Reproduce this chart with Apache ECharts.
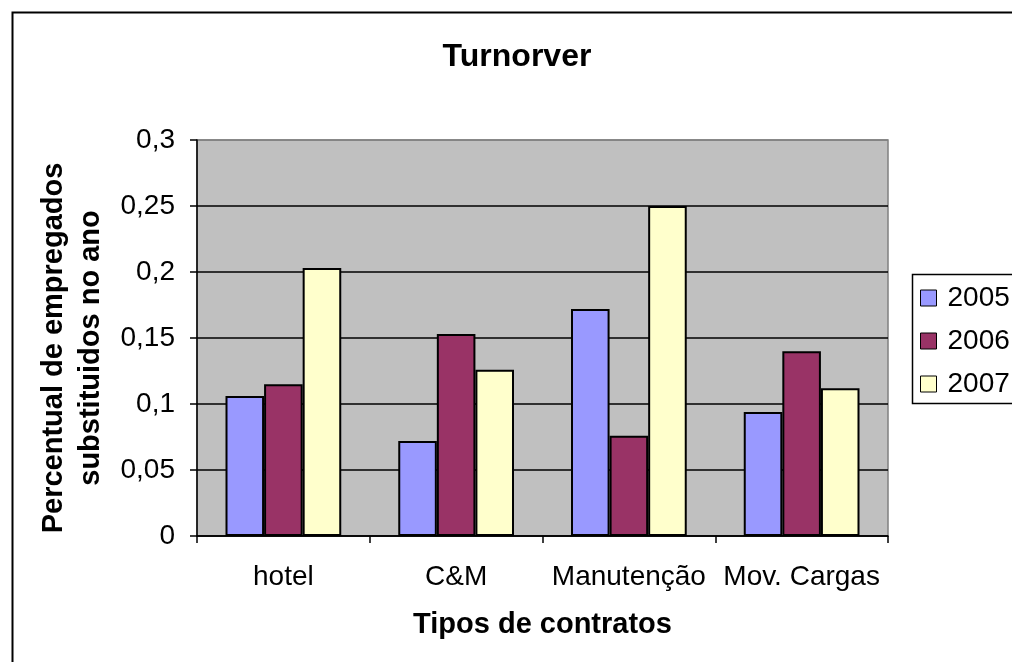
<!DOCTYPE html>
<html>
<head>
<meta charset="utf-8">
<script src="https://cdn.jsdelivr.net/npm/echarts@6/dist/echarts.min.js"></script>
<style>
html,body{margin:0;padding:0;background:#fff;}
#chart{width:1012px;height:662px;}
</style>
</head>
<body>
<div id="chart"></div>
<script>
var categories = ['hotel', 'C&M', 'Manutenção', 'Mov. Cargas'];
var seriesNames = ['2005', '2006', '2007'];
var values2005 = [0.106, 0.072, 0.172, 0.094];
var values2006 = [0.115, 0.153, 0.076, 0.140];
var values2007 = [0.203, 0.126, 0.250, 0.112];
var yTicks = [0, 0.05, 0.1, 0.15, 0.2, 0.25, 0.3];
var colors = ['#9999FF', '#993366', '#FFFFCC'];

var FONT = '"Liberation Sans", Arial, sans-serif';
var chart = echarts.init(document.getElementById('chart'), null, {renderer: 'canvas'});

function barSeries(name, data, color) {
  return {
    name: name,
    type: 'bar',
    data: data,
    barGap: '0%',
    barCategoryGap: '33%',
    itemStyle: {color: color, borderColor: '#000', borderWidth: 2},
    emphasis: {disabled: true}
  };
}

chart.setOption({
  animation: false,
  backgroundColor: '#fff',
  title: {
    text: 'Turnorver',
    left: 512,
    top: 36,
    textAlign: 'center',
    textStyle: {fontFamily: FONT, fontSize: 32, fontWeight: 'bold', color: '#000'}
  },
  grid: {
    left: 197, top: 140, width: 691, height: 396,
    show: true, backgroundColor: '#C0C0C0', borderColor: '#808080', borderWidth: 1.5
  },
  legend: {
    orient: 'vertical',
    left: 920,
    top: 284,
    padding: 0,
    itemWidth: 16,
    itemHeight: 16,
    itemGap: 15,
    icon: 'rect',
    selectedMode: false,
    data: seriesNames,
    itemStyle: {borderColor: '#000', borderWidth: 1},
    textStyle: {fontFamily: FONT, fontSize: 28, color: '#000', padding: [0, 0, 0, 6]}
  },
  xAxis: {
    type: 'category',
    data: categories,
    name: 'Tipos de contratos',
    nameLocation: 'middle',
    nameGap: 74,
    nameTextStyle: {fontFamily: FONT, fontSize: 29, fontWeight: 'bold', color: '#000'},
    axisLine: {lineStyle: {color: '#000', width: 1.5}},
    axisTick: {show: true, alignWithLabel: false, length: 7, lineStyle: {color: '#000', width: 1.5}},
    axisLabel: {fontFamily: FONT, fontSize: 28, color: '#000', margin: 27, interval: 0}
  },
  yAxis: {
    type: 'value',
    min: 0, max: 0.3, interval: 0.05,
    name: 'Percentual de empregados\nsubstituidos no ano',
    nameLocation: 'middle',
    nameGap: 88,
    nameRotate: 90,
    nameTextStyle: {fontFamily: FONT, fontSize: 29, fontWeight: 'bold', color: '#000', lineHeight: 37, padding: [0, 20, 0, 0]},
    axisLine: {show: true, lineStyle: {color: '#000', width: 1.5}},
    axisTick: {show: true, length: 7, lineStyle: {color: '#000', width: 1.5}},
    axisLabel: {
      fontFamily: FONT, fontSize: 28, color: '#000', margin: 22,
      formatter: function (v) {
        var t = yTicks.filter(function (k) { return Math.abs(k - v) < 1e-9; });
        return String(+(t.length ? t[0] : v).toFixed(2)).replace('.', ',');
      }
    },
    splitLine: {show: true, lineStyle: {color: ['#000', '#000', '#000', '#000', '#000', '#000', '#808080'], width: 1.5}}
  },
  graphic: [
    {type: 'rect', left: 10, top: 10, shape: {x: 0, y: 0, width: 1100, height: 700},
     style: {fill: 'none', stroke: '#000', lineWidth: 2}, silent: true, z: 100},
    {type: 'rect', left: 910, top: 272, shape: {x: 0, y: 0, width: 200, height: 129},
     style: {fill: 'none', stroke: '#000', lineWidth: 1.5}, silent: true, z: 100}
  ],
  series: [
    barSeries(seriesNames[0], values2005, colors[0]),
    barSeries(seriesNames[1], values2006, colors[1]),
    barSeries(seriesNames[2], values2007, colors[2])
  ]
});
</script>
</body>
</html>
